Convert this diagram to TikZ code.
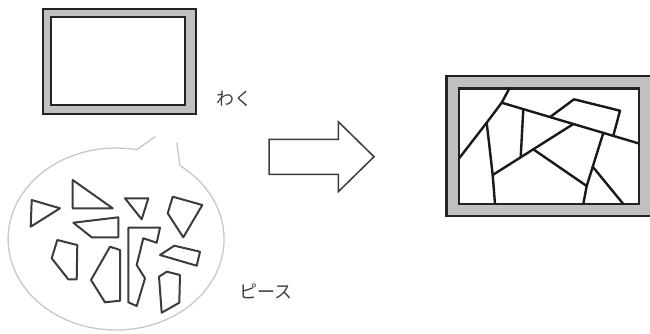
\documentclass[tikz,border=0pt]{standalone}
\usepackage{fontspec}
\newfontfamily\jpfont{Noto Sans CJK JP}
\definecolor{framegray}{RGB}{192,192,192}
\definecolor{frameline}{RGB}{35,35,35}
\definecolor{piececol}{RGB}{60,60,60}
\definecolor{bubblecol}{RGB}{200,200,200}
\tikzset{
  frameouter/.style={draw=frameline, fill=framegray, line width=2.5pt},
  frameinner/.style={draw=frameline, fill=white, line width=2.5pt},
  piece/.style={draw=piececol, line width=2pt, line join=round},
  crack/.style={draw=black!90, line width=2.4pt, line cap=round, line join=round},
  bubble/.style={draw=bubblecol, line width=1.3pt},
  bigarrow/.style={draw=piececol, fill=white, line width=1.5pt},
  label/.style={font=\jpfont\fontsize{18}{18}\selectfont, text=black!75, inner sep=0pt}
}
\begin{document}
\begin{tikzpicture}[x=1pt,y=-1pt]
\useasboundingbox (0,0) rectangle (650,333);
\fill[white] (0,0) rectangle (650,333);

% left frame
\path[frameouter] (43,9) rectangle (196,114);
\path[frameinner] (51,17) rectangle (185,105);
\node[label] (waku) at (234,99) {わく};

% speech bubble
\draw[bubble] (180,165.7) arc[start angle=-53.7, end angle=281.05, x radius=108, y radius=91] -- (155,136.7);
\draw[bubble] (176.7,142.7) -- (180,165.7);

% pieces
\path[piece] (31.7,200) -- (60,208.3) -- (30.7,226.7) -- cycle;
\path[piece] (72.7,180) -- (112.7,208.3) -- (72.7,208.3) -- cycle;
\path[piece] (125,198.3) -- (148.3,198.3) -- (141.7,219.3) -- cycle;
\path[piece] (172.7,196.7) -- (202.3,205) -- (183.3,237.3) -- (167.7,213.3) -- cycle;
\path[piece] (73.3,222.7) -- (118.3,217.3) -- (118.3,237.3) -- (91.7,237.3) -- cycle;
\path[piece] (57.3,240) -- (77.3,245) -- (76.7,279.3) -- (68.3,279.3) -- (51.7,258.3) -- cycle;
\path[piece] (110,246.7) -- (120,250) -- (120,300.7) -- (105,302.3) -- (91,280) -- cycle;
\path[piece] (128.3,227.7) -- (160,227.7) -- (156.7,242.7) -- (143.3,238.3) -- (136.7,265) -- (145,278.3) -- (136.7,306) -- (128.3,302.3) -- cycle;
\path[piece] (174.3,245.7) -- (200,251.7) -- (196.7,265.7) -- (160,255) -- cycle;
\path[piece] (159,276.7) -- (166.7,271.7) -- (180,275) -- (179.3,302.7) -- (161.7,312.7) -- cycle;
\node[label] (piisu) at (266,291) {ピース};

% arrow
\path[bigarrow] (269,139.3) -- (338.3,139.3) -- (338.3,121.7) -- (374,156.7) -- (338.3,191.7) -- (338.3,174.3) -- (269,174.3) -- cycle;

% right frame
\path[frameouter] (446.5,76) rectangle (653,216);
\path[frameinner] (459,88.5) rectangle (639,204);
\coordinate (p1) at (509.3,88.5);
\coordinate (p2) at (501.7,102.7);
\coordinate (p3) at (486.7,122.7);
\coordinate (p4) at (459,158.5);
\coordinate (bR) at (639,143.5);
\coordinate (c1) at (492.7,175);
\coordinate (c2) at (495,204);
\coordinate (d1) at (523.3,109.1);
\coordinate (d2) at (520.7,157.3);
\coordinate (e2) at (573.3,124);
\coordinate (f1) at (533.3,149.3);
\coordinate (f2) at (586.7,186);
\coordinate (g1) at (603.3,132.9);
\coordinate (g2) at (583.3,204);
\coordinate (h1) at (592.7,166.7);
\coordinate (h2) at (623.3,204);
\coordinate (q1) at (550,117.1);
\coordinate (q2) at (574,99.3);
\coordinate (q3) at (620,110.7);
\coordinate (q4) at (613.3,135.7);
\path[crack] (p1) -- (p2) -- (p3) -- (p4);
\path[crack] (p2) -- (bR);
\path[crack] (p3) -- (c1) -- (c2);
\path[crack] (d1) -- (d2);
\path[crack] (c1) -- (e2);
\path[crack] (f1) -- (f2);
\path[crack] (g1) -- (f2) -- (g2);
\path[crack] (h1) -- (h2);
\path[crack] (q1) -- (q2) -- (q3) -- (q4);
\end{tikzpicture}
\end{document}
